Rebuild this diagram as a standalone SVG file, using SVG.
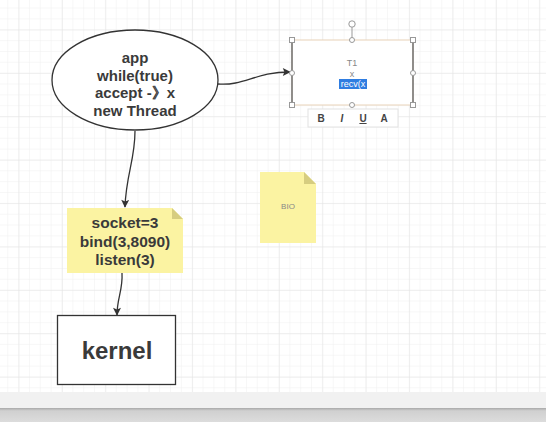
<svg xmlns="http://www.w3.org/2000/svg" width="546" height="422" viewBox="0 0 546 422">
<defs>
<pattern id="minor" x="-3.6" y="-3.3" width="10.85" height="10.85" patternUnits="userSpaceOnUse">
<path d="M0 0H10.85M0 0V10.85" stroke="#f0f0f0" stroke-width="1" fill="none"/>
</pattern>
<pattern id="major" x="18.5" y="29.5" width="43.4" height="43.4" patternUnits="userSpaceOnUse">
<path d="M0 0H43.4M0 0V43.4" stroke="#e4e4e4" stroke-width="1" fill="none"/>
</pattern>
<marker id="arr" viewBox="0 0 10 10" refX="9" refY="5" markerWidth="9" markerHeight="8" orient="auto" markerUnits="userSpaceOnUse">
<path d="M0 0L10 5L0 10L2 5z" fill="#333"/>
</marker>
<linearGradient id="bar" x1="0" y1="0" x2="0" y2="1">
<stop offset="0" stop-color="#a8a8a8"/>
<stop offset="0.2" stop-color="#d0d0d0"/>
<stop offset="1" stop-color="#dcdcdc"/>
</linearGradient>
</defs>
<style>
.t{font-family:"Liberation Sans",Arial,sans-serif;font-weight:bold;fill:#3a3a3a;text-anchor:middle}
.note{fill:#fbf3a2}
.fold{fill:#d6cd80}
.h{fill:#fff;stroke:#999;stroke-width:1}
.tb{font-family:"Liberation Sans",sans-serif;font-weight:bold;font-size:10px;fill:#444;text-anchor:middle}
.con{fill:none;stroke:#333;stroke-width:1.3}
</style>
<rect width="546" height="422" fill="#fff"/>
<rect width="546" height="392" fill="url(#minor)"/>
<rect width="546" height="392" fill="url(#major)"/>
<rect x="0" y="392" width="546" height="16" fill="#f1f1f1"/>
<rect x="0" y="408" width="546" height="14" fill="url(#bar)"/>

<g id="connectors">
<path class="con" d="M218 84C245 86 255 72 290 72" marker-end="url(#arr)"/>
<path class="con" d="M135 131C135 160 126 175 125 207" marker-end="url(#arr)"/>
<path class="con" d="M122 273C123 290 117 298 117 315" marker-end="url(#arr)"/>
</g>

<g id="app">
<ellipse cx="135" cy="80" rx="83" ry="50" fill="#fff" stroke="#333" stroke-width="1.3"/>
<text class="t" x="135" y="63" font-size="15">app</text>
<text class="t" x="135" y="80.5" font-size="15">while(true)</text>
<text class="t" x="135" y="98" font-size="15">accept -》x</text>
<text class="t" x="135" y="115.5" font-size="15">new Thread</text>
</g>

<g id="t1">
<rect x="292" y="40" width="121" height="65" fill="#fff" stroke="#e8d2b8" stroke-width="1"/>
<path d="M292 40V105M413 40V105" stroke="#777" stroke-width="1.6"/>
<line x1="352" y1="27" x2="352" y2="40" stroke="#999"/>
<circle cx="352" cy="24" r="3.2" class="h"/>
<rect x="289.5" y="37.5" width="5" height="5" class="h"/>
<rect x="410.5" y="37.5" width="5" height="5" class="h"/>
<rect x="289.5" y="102.5" width="5" height="5" class="h"/>
<rect x="410.5" y="102.5" width="5" height="5" class="h"/>
<circle cx="352" cy="40" r="2.5" class="h"/>
<circle cx="352" cy="105" r="2.5" class="h"/>
<circle cx="413" cy="73" r="2.5" class="h"/>
<circle cx="292" cy="73" r="2.5" class="h"/>
<text x="352" y="66" font-family="Liberation Sans,sans-serif" font-size="9" fill="#888" text-anchor="middle">T1</text>
<text x="352" y="77" font-family="Liberation Sans,sans-serif" font-size="9" fill="#888" text-anchor="middle">x</text>
<rect x="339" y="79" width="28" height="10" fill="#2f7de1"/>
<text x="353" y="87" font-family="Liberation Sans,sans-serif" font-size="9" fill="#fff" text-anchor="middle">recv(x</text>
</g>

<g id="toolbar">
<rect x="308" y="109" width="90" height="18" fill="#fff" stroke="#e2e2e2"/>
<text class="tb" x="321" y="122">B</text>
<text class="tb" x="342" y="122" font-style="italic">I</text>
<text class="tb" x="363" y="122" text-decoration="underline">U</text>
<text class="tb" x="384" y="122">A</text>
</g>

<g id="socket">
<path class="note" d="M67 208H172L183 219V273H67z"/>
<path class="fold" d="M172 208L183 219H172z"/>
<text class="t" x="125" y="228" font-size="15.5">socket=3</text>
<text class="t" x="125" y="246.5" font-size="15.5">bind(3,8090)</text>
<text class="t" x="125" y="265" font-size="15.5">listen(3)</text>
</g>

<g id="bio">
<path class="note" d="M260 172H304L316 184V243H260z"/>
<path class="fold" d="M304 172L316 184H304z"/>
<text x="288" y="209" font-family="Liberation Sans,sans-serif" font-size="8" fill="#888" text-anchor="middle">BIO</text>
</g>

<g id="kernel">
<rect x="57.5" y="315.5" width="118" height="69" fill="#fff" stroke="#333" stroke-width="1.3"/>
<text class="t" x="117" y="359" font-size="24" fill="#222">kernel</text>
</g>
</svg>
